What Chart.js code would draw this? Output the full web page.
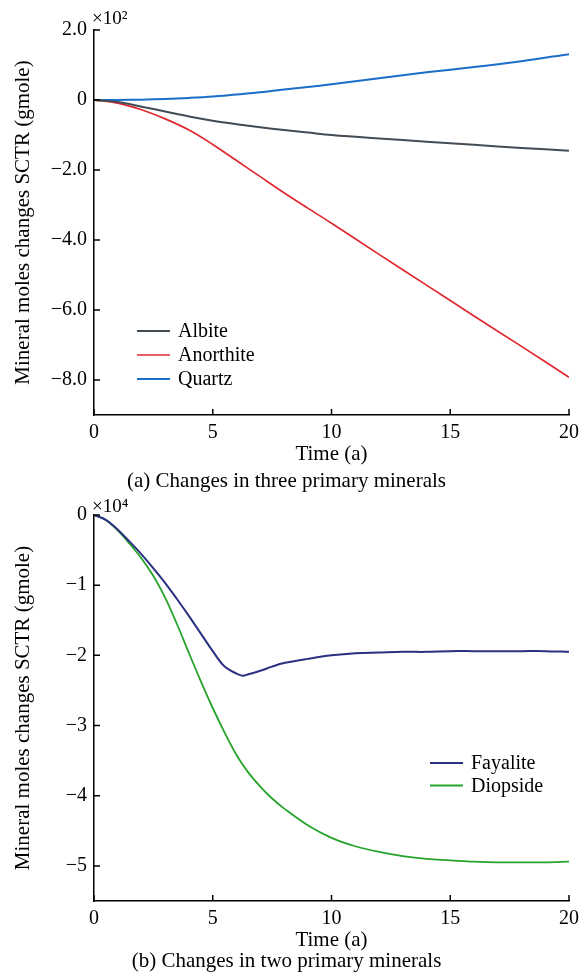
<!DOCTYPE html>
<html>
<head>
<meta charset="utf-8">
<title>Mineral moles changes SCTR</title>
<script src="https://cdn.jsdelivr.net/npm/chart.js@4.4.1/dist/chart.umd.min.js"></script>
<style>
  html, body { margin: 0; padding: 0; background: #fff; }
  canvas { display: block; }
</style>
</head>
<body>
<canvas id="chartA" width="585" height="494"></canvas>
<canvas id="chartB" width="585" height="485"></canvas>
<script>
// (a) three primary minerals, values in 10^2 gmole
const timeA = [0, 1, 2, 3, 4, 5, 6, 7, 8, 9, 10, 12, 14, 16, 18, 20];
const albite = [0, -0.06, -0.19, -0.33, -0.47, -0.59, -0.69, -0.78, -0.86, -0.93, -1.0, -1.1, -1.19, -1.28, -1.37, -1.45];
const anorthite = [0, -0.09, -0.28, -0.54, -0.86, -1.27, -1.73, -2.19, -2.65, -3.09, -3.52, -4.41, -5.29, -6.17, -7.04, -7.92];
const quartz = [0, 0, 0.01, 0.03, 0.06, 0.1, 0.16, 0.22, 0.3, 0.37, 0.45, 0.62, 0.79, 0.94, 1.11, 1.31];
const yTicksA = [2, 0, -2, -4, -6, -8];
const yLabelsA = ['2.0', '0', '\u22122.0', '\u22124.0', '\u22126.0', '\u22128.0'];

// (b) two primary minerals, values in 10^4 gmole
const timeB = [0, 0.5, 1, 1.5, 2, 2.5, 3, 3.5, 4, 4.5, 5, 5.5, 6, 6.25, 6.5, 7, 7.5, 8, 9, 10, 11, 12, 13, 14, 15, 16, 17, 18, 19, 20];
const fayalite = [0, -0.07, -0.21, -0.38, -0.56, -0.76, -0.97, -1.2, -1.44, -1.69, -1.94, -2.16, -2.26, -2.29, -2.27, -2.22, -2.16, -2.11, -2.05, -2.0, -1.97, -1.96, -1.95, -1.95, -1.94, -1.94, -1.94, -1.94, -1.94, -1.95];
const diopside = [0, -0.07, -0.22, -0.41, -0.62, -0.87, -1.18, -1.56, -1.97, -2.37, -2.75, -3.1, -3.42, -3.55, -3.67, -3.87, -4.04, -4.18, -4.42, -4.6, -4.72, -4.8, -4.86, -4.9, -4.92, -4.94, -4.95, -4.95, -4.95, -4.94];
const yTicksB = [0, -1, -2, -3, -4, -5];
const yLabelsB = ['0', '\u22121', '\u22122', '\u22123', '\u22124', '\u22125'];

const xTicks = [0, 5, 10, 15, 20];

const SERIF = '"Liberation Serif", "Times New Roman", serif';
Chart.defaults.font.family = SERIF;
Chart.defaults.color = '#000';

function toPoints(xs, ys) {
    return xs.map((x, i) => ({ x: x, y: ys[i] }));
}

// tick marks point into the plot area
const innerTicks = {
    id: 'innerTicks',
    afterDraw(chart) {
        const { ctx, chartArea, scales } = chart;
        ctx.save();
        ctx.strokeStyle = '#000';
        ctx.lineWidth = 1.5;
        ctx.beginPath();
        scales.x.ticks.forEach(t => {
            const px = scales.x.getPixelForValue(t.value);
            ctx.moveTo(px, chartArea.bottom);
            ctx.lineTo(px, chartArea.bottom - 6);
        });
        scales.y.ticks.forEach(t => {
            const py = scales.y.getPixelForValue(t.value);
            ctx.moveTo(chartArea.left, py);
            ctx.lineTo(chartArea.left + 6, py);
        });
        ctx.stroke();
        ctx.restore();
    }
};

// legend drawn inside the plot
const insideLegend = {
    id: 'insideLegend',
    afterDraw(chart, args, opts) {
        const { ctx, chartArea } = chart;
        ctx.save();
        ctx.font = '20px ' + SERIF;
        ctx.textBaseline = 'middle';
        ctx.textAlign = 'left';
        chart.data.datasets.forEach((ds, i) => {
            const x = chartArea.left + opts.left;
            const y = chartArea.top + opts.top + i * opts.step;
            ctx.strokeStyle = ds.borderColor;
            ctx.lineWidth = ds.borderWidth;
            ctx.beginPath();
            ctx.moveTo(x, y);
            ctx.lineTo(x + 33, y);
            ctx.stroke();
            ctx.fillStyle = '#000';
            ctx.fillText(ds.label, x + 41, y + 1);
        });
        ctx.restore();
    }
};

// "x10^n" scale note above the y axis
const multiplier = {
    id: 'multiplier',
    afterDraw(chart, args, opts) {
        const { ctx, chartArea } = chart;
        ctx.save();
        ctx.font = '19px ' + SERIF;
        ctx.textBaseline = 'middle';
        ctx.fillStyle = '#000';
        ctx.fillText(opts.text, chartArea.left - 2, chartArea.top + opts.dy);
        ctx.restore();
    }
};

function makeChart(id, cfg) {
    return new Chart(document.getElementById(id), {
        type: 'line',
        data: { datasets: cfg.datasets },
        options: {
            responsive: false,
            animation: false,
            devicePixelRatio: 1,
            layout: { padding: { top: cfg.padTop, right: 12, left: 0, bottom: 0 } },
            elements: {
                point: { radius: 0 },
                line: { tension: 0.35 }
            },
            plugins: {
                legend: { display: false },
                tooltip: { enabled: false },
                title: {
                    display: true,
                    position: 'bottom',
                    text: cfg.caption,
                    font: { size: 21, weight: 'normal', lineHeight: 1.2 },
                    padding: { top: 0, bottom: cfg.captionPad }
                },
                insideLegend: cfg.legend,
                multiplier: cfg.multiplier
            },
            scales: {
                x: {
                    type: 'linear',
                    min: 0,
                    max: 20,
                    afterBuildTicks: s => { s.ticks = xTicks.map(v => ({ value: v })); },
                    afterFit: s => { s.height = cfg.xHeight; },
                    grid: { display: false, drawTicks: false },
                    border: { color: '#000', width: 1.5 },
                    ticks: { font: { size: 20 }, padding: 6, maxRotation: 0 },
                    title: {
                        display: true,
                        text: 'Time (a)',
                        font: { size: 21, lineHeight: 1.2 },
                        padding: { top: 0, bottom: cfg.xTitlePad }
                    }
                },
                y: {
                    type: 'linear',
                    min: cfg.yMin,
                    max: cfg.yMax,
                    afterBuildTicks: s => { s.ticks = cfg.yTicks.map(v => ({ value: v })); },
                    afterFit: s => { s.width = 94; },
                    grid: { display: false, drawTicks: false },
                    border: { color: '#000', width: 1.5 },
                    ticks: {
                        font: { size: 20 },
                        padding: 7,
                        callback: v => cfg.yLabels[cfg.yTicks.indexOf(v)]
                    },
                    title: {
                        display: true,
                        text: 'Mineral moles changes SCTR (gmole)',
                        font: { size: 21, lineHeight: 1.2 },
                        padding: { top: 11, bottom: 0 }
                    }
                }
            }
        },
        plugins: [innerTicks, insideLegend, multiplier]
    });
}

makeChart('chartA', {
    datasets: [
        { label: 'Albite', data: toPoints(timeA, albite), borderColor: '#434c54', borderWidth: 2 },
        { label: 'Anorthite', data: toPoints(timeA, anorthite), borderColor: '#e1282f', borderWidth: 1.7 },
        { label: 'Quartz', data: toPoints(timeA, quartz), borderColor: '#1b6fc8', borderWidth: 2 }
    ],
    yMin: -9, yMax: 2, yTicks: yTicksA, yLabels: yLabelsA,
    caption: '(a) Changes in three primary minerals',
    padTop: 30, xHeight: 53.8, xTitlePad: 2.2, captionPad: 0,
    legend: { left: 43, top: 301, step: 24 },
    multiplier: { text: '\u00d710\u00b2', dy: -11 }
});

makeChart('chartB', {
    datasets: [
        { label: 'Fayalite', data: toPoints(timeB, fayalite), borderColor: '#2a3180', borderWidth: 2 },
        { label: 'Diopside', data: toPoints(timeB, diopside), borderColor: '#26a32b', borderWidth: 1.8 }
    ],
    yMin: -5.5, yMax: 0, yTicks: yTicksB, yLabels: yLabelsB,
    caption: '(b) Changes in two primary minerals',
    padTop: 21, xHeight: 48.1, xTitlePad: -3.5, captionPad: 4.7,
    legend: { left: 336, top: 248, step: 22.5 },
    multiplier: { text: '\u00d710\u2074', dy: -8 }
});
</script>
</body>
</html>
